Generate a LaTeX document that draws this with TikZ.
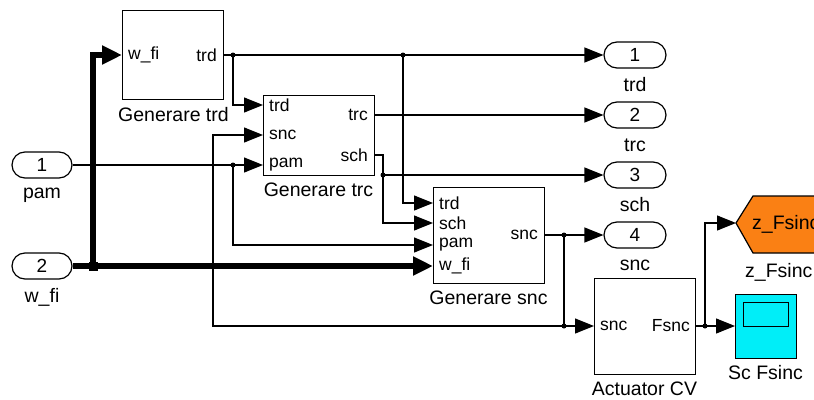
\documentclass[tikz,border=0pt]{standalone}
\usepackage{fontspec}
\setmainfont{Liberation Sans}
\usetikzlibrary{arrows.meta}
\definecolor{scopecyan}{RGB}{0,238,248}
\definecolor{gotoorange}{RGB}{250,128,20}
\tikzset{
  blk/.style={draw, line width=1.2pt, anchor=north west, inner sep=0pt, fill=white},
  wire/.style={line width=1.2pt, -{Triangle[length=19pt,width=15pt]}},
  plainwire/.style={line width=1.2pt},
  bus/.style={line width=5.5pt, -{Triangle[length=20pt,width=18pt]}},
  ioport/.style={draw, line width=1.2pt, rounded corners=13pt, minimum height=26pt, inner sep=0pt, font=\fontsize{19}{20}\selectfont},
  plabel/.style={font=\fontsize{17.5}{18}\selectfont, inner sep=0pt},
  bname/.style={font=\fontsize{19.5}{20}\selectfont, inner sep=0pt},
  jdot/.style={circle, fill, inner sep=0pt, minimum size=5pt},
  bdot/.style={rectangle, fill, inner sep=0pt, minimum size=9pt}
}
\begin{document}
\begin{tikzpicture}[x=1pt,y=-1pt]
\useasboundingbox (0,0) rectangle (814,399);

% ---- blocks
\node[blk, minimum width=101pt, minimum height=89pt] (gtrd) at (122,10) {};
\node[blk, minimum width=111pt, minimum height=80pt] (gtrc) at (263,95) {};
\node[blk, minimum width=111pt, minimum height=96pt] (gsnc) at (433,187) {};
\node[blk, minimum width=101pt, minimum height=96pt] (act) at (594,278) {};
\node[blk, fill=scopecyan, minimum width=61pt, minimum height=64pt] (scope) at (735,294) {};
\node[blk, fill=scopecyan, minimum width=45pt, minimum height=24pt] (scopescr) at (743,302) {};

\node[bname] (ntrd) at (173.5,115) {Generare trd};
\node[bname] (ntrc) at (318.5,190) {Generare trc};
\node[bname] (nsnc) at (488.5,298) {Generare snc};
\node[bname] (nact) at (644.5,389) {Actuator CV};
\node[bname] (nsc) at (765.5,373) {Sc Fsinc};

% ---- port coordinates
\coordinate (gtrd-wfi) at (122,55);
\coordinate (gtrd-trd) at (223,55);
\coordinate (gtrc-trd) at (263,105);
\coordinate (gtrc-snc) at (263,135);
\coordinate (gtrc-pam) at (263,165);
\coordinate (gtrc-trc) at (374,115);
\coordinate (gtrc-sch) at (374,155);
\coordinate (gsnc-trd) at (433,203);
\coordinate (gsnc-sch) at (433,223);
\coordinate (gsnc-pam) at (433,245);
\coordinate (gsnc-wfi) at (433,266);
\coordinate (gsnc-snc) at (544,235);
\coordinate (act-snc) at (594,326);
\coordinate (act-fsnc) at (695,326);
\coordinate (scope-in) at (735,326);

% ---- port labels
\node[plabel, anchor=west] at ([xshift=6pt]gtrd-wfi) {w\_fi};
\node[plabel, anchor=east] at ([xshift=-6pt]gtrd-trd) {trd};
\node[plabel, anchor=west] at ([xshift=6pt]gtrc-trd) {trd};
\node[plabel, anchor=west] at ([xshift=6pt]gtrc-snc) {snc};
\node[plabel, anchor=west] at ([xshift=6pt]gtrc-pam) {pam};
\node[plabel, anchor=east] at ([xshift=-6pt]gtrc-trc) {trc};
\node[plabel, anchor=east] at ([xshift=-6pt]gtrc-sch) {sch};
\node[plabel, anchor=west] at ([xshift=6pt]gsnc-trd) {trd};
\node[plabel, anchor=west] at ([xshift=6pt]gsnc-sch) {sch};
\node[plabel, anchor=west] at ([xshift=6pt]gsnc-pam) {pam};
\node[plabel, anchor=west] at ([xshift=6pt]gsnc-wfi) {w\_fi};
\node[plabel, anchor=east] at ([xshift=-6pt]gsnc-snc) {snc};
\node[plabel, anchor=west] at ([xshift=6pt]act-snc) {snc};
\node[plabel, anchor=east] at ([xshift=-5pt]act-fsnc) {Fsnc};

% ---- inports
\node[ioport, minimum width=60pt] (in1) at (42,165) {1};
\node[ioport, minimum width=60pt] (in2) at (42,266) {2};
\node[bname] at (42,195) {pam};
\node[bname] at (42,297) {w\_fi};

% ---- outports
\node[ioport, minimum width=62pt] (out1) at (635,55) {1};
\node[ioport, minimum width=62pt] (out2) at (635,115) {2};
\node[ioport, minimum width=62pt] (out3) at (635,175) {3};
\node[ioport, minimum width=62pt] (out4) at (635,235) {4};
\node[bname] at (635,85) {trd};
\node[bname] at (635,145) {trc};
\node[bname] at (635,205) {sch};
\node[bname] at (635,265) {snc};

% ---- goto tag (clipped at the right edge)
\begin{scope}
\clip (0,0) rectangle (814,399);
\draw[line width=1.2pt, fill=gotoorange] (736,223) -- (753,196) -- (840,196) -- (840,253) -- (753,253) -- cycle;
\coordinate (goto-in) at (736,223);
\node[bname, anchor=west] (gototxt) at (752,224) {z\_Fsinc};
\node[bname, anchor=west] (gotolbl) at (745,272) {z\_Fsinc};
\end{scope}

% ---- junction coordinates
\coordinate (j0) at (93,266);
\coordinate (j1) at (233,55);
\coordinate (j2) at (403,55);
\coordinate (j3) at (383,175);
\coordinate (j4) at (233,165);
\coordinate (j5) at (564,235);
\coordinate (j6) at (564,326);
\coordinate (j7) at (705,326);

% ---- wires
\draw[bus] (in2.east) -- (gsnc-wfi);
\draw[bus] (j0) |- (gtrd-wfi);
\draw[wire] (gtrd-trd) -- (out1.west);
\draw[wire] (j1) |- (gtrc-trd);
\draw[wire] (j2) |- (gsnc-trd);
\draw[wire] (gtrc-trc) -- (out2.west);
\draw[plainwire] (gtrc-sch) -| (j3);
\draw[wire] (j3) -- (out3.west);
\draw[wire] (j3) |- (gsnc-sch);
\draw[wire] (in1.east) -- (gtrc-pam);
\draw[wire] (j4) |- (gsnc-pam);
\draw[wire] (gsnc-snc) -- (out4.west);
\draw[wire] (j5) |- (act-snc);
\draw[wire] (j6) -| (213,135) -- (gtrc-snc);
\draw[wire] (act-fsnc) -- (scope-in);
\draw[wire] (j7) |- (goto-in);

% ---- junction dots
\node[bdot] at (j0) {};
\foreach \j in {j1,j2,j3,j4,j5,j6,j7} { \node[jdot] at (\j) {}; }
\end{tikzpicture}
\end{document}
